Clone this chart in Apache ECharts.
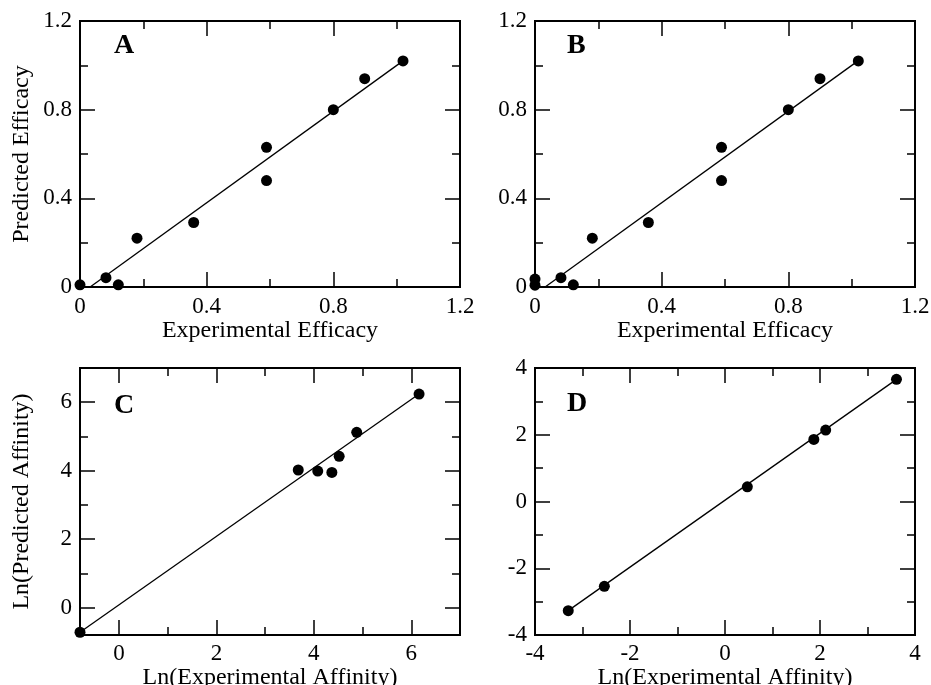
<!DOCTYPE html>
<html>
<head>
<meta charset="UTF-8">
<title>Efficacy and affinity</title>
<script src="https://cdn.jsdelivr.net/npm/echarts@6/dist/echarts.min.js"></script>
</head>
<body style="margin:0;background:#fff">
<div id="main" style="width:931px;height:685px"></div>
<script>
// panel A: experimental vs predicted efficacy
var expEffA = [0, 0.082, 0.121, 0.18, 0.359, 0.589, 0.589, 0.8, 0.899, 1.02];
var predEffA = [0.01, 0.042, 0.01, 0.22, 0.291, 0.63, 0.48, 0.8, 0.94, 1.02];
// panel B: same set plus one more compound at 0
var expEffB = [0, 0, 0.082, 0.121, 0.181, 0.358, 0.589, 0.589, 0.8, 0.9, 1.021];
var predEffB = [0.036, 0.008, 0.042, 0.01, 0.22, 0.291, 0.63, 0.48, 0.8, 0.94, 1.02];
// fitted line ends (A and B)
var fitEffX = [0.032, 1.02];
var fitEffY = [0, 1.02];
// panel C: ln affinities
var expAffC = [-0.8, 3.68, 4.08, 4.37, 4.52, 4.88, 6.16];
var predAffC = [-0.72, 4.02, 3.99, 3.95, 4.42, 5.12, 6.24];
var fitCX = [-0.8, 6.18];
var fitCY = [-0.72, 6.26];
// panel D
var expAffD = [-3.3, -2.54, 0.47, 1.87, 2.12, 3.61];
var predAffD = [-3.27, -2.54, 0.44, 1.86, 2.14, 3.66];
var fitDX = [-3.3, 3.61];
var fitDY = [-3.27, 3.66];

// tick values
var effMajor = [0, 0.4, 0.8, 1.2];
var effMinor = [0.2, 0.6, 1.0];
var affCMajor = [0, 2, 4, 6];
var affCMinor = [1, 3, 5];
var affDMajor = [-4, -2, 0, 2, 4];
var affDMinor = [-3, -1, 1, 3];

var font = "'Liberation Serif', 'DejaVu Serif', serif";
var myChart = echarts.init(document.getElementById('main'));

var xAxes = [];
var yAxes = [];

// four axes per direction: labelled major, minor, mirrored major, mirrored minor
function addAxes(list, grid, dim, min, max, major, minor, name, nameGap, labelMargin) {
    var first = dim === 'x' ? 'bottom' : 'left';
    var second = dim === 'x' ? 'top' : 'right';
    var sets = [
        [first, major, 15, true],
        [first, minor, 8, false],
        [second, major, 15, false],
        [second, minor, 8, false]
    ];
    var start = list.length;
    sets.forEach(function (s) {
        var ax = {
            gridIndex: grid,
            type: 'value',
            min: min,
            max: max,
            position: s[0],
            axisLine: { show: false, onZero: false },
            splitLine: { show: false },
            axisTick: { show: true, inside: true, length: s[2], customValues: s[1],
                lineStyle: { color: '#000', width: 1.5 } },
            axisLabel: { show: s[3], customValues: s[1], margin: labelMargin,
                color: '#000', fontFamily: font, fontSize: 23 }
        };
        if (s[3] && name) {
            ax.name = name;
            ax.nameLocation = 'middle';
            ax.nameGap = nameGap;
            ax.nameTextStyle = { color: '#000', fontFamily: font, fontSize: 24 };
        }
        list.push(ax);
    });
    return start;
}

var grids = [
    { left: 80, top: 21, width: 380, height: 266 },
    { left: 535, top: 21, width: 380, height: 266 },
    { left: 80, top: 368, width: 380, height: 267 },
    { left: 535, top: 368, width: 380, height: 267 }
];
grids.forEach(function (g) {
    g.show = true;
    g.borderColor = '#000';
    g.borderWidth = 2;
    g.outerBoundsMode = 'none';
    g.containLabel = false;
});

var xa = addAxes(xAxes, 0, 'x', 0, 1.2, effMajor, effMinor, 'Experimental Efficacy', 28, 8);
var ya = addAxes(yAxes, 0, 'y', 0, 1.2, effMajor, effMinor, 'Predicted Efficacy', 46, 8);
var xb = addAxes(xAxes, 1, 'x', 0, 1.2, effMajor, effMinor, 'Experimental Efficacy', 28, 8);
var yb = addAxes(yAxes, 1, 'y', 0, 1.2, effMajor, effMinor, null, 0, 8);
var xc = addAxes(xAxes, 2, 'x', -0.8, 7, affCMajor, affCMinor, 'Ln(Experimental Affinity)', 29, 7);
var yc = addAxes(yAxes, 2, 'y', -0.8, 7, affCMajor, affCMinor, 'Ln(Predicted Affinity)', 46, 8);
var xd = addAxes(xAxes, 3, 'x', -4, 4, affDMajor, affDMinor, 'Ln(Experimental Affinity)', 29, 7);
var yd = addAxes(yAxes, 3, 'y', -4, 4, affDMajor, affDMinor, null, 0, 8);

function pairs(xs, ys) {
    return xs.map(function (v, i) { return [v, ys[i]]; });
}

function panel(xi, yi, xs, ys, lx, ly) {
    return [{
        type: 'line',
        xAxisIndex: xi,
        yAxisIndex: yi,
        data: pairs(lx, ly),
        showSymbol: false,
        lineStyle: { color: '#000', width: 1.3 },
        z: 2
    }, {
        type: 'scatter',
        xAxisIndex: xi,
        yAxisIndex: yi,
        data: pairs(xs, ys),
        symbolSize: 11,
        itemStyle: { color: '#000', opacity: 1 },
        z: 3
    }];
}

function letter(t, l, tp) {
    return { text: t, left: l, top: tp, padding: 0,
        textStyle: { fontFamily: font, fontSize: 28, fontWeight: 'bold', color: '#000' } };
}

var option = {
    animation: false,
    backgroundColor: '#fff',
    title: [letter('A', 114, 32), letter('B', 567, 32), letter('C', 114, 392), letter('D', 567, 390)],
    grid: grids,
    xAxis: xAxes,
    yAxis: yAxes,
    series: [].concat(
        panel(xa, ya, expEffA, predEffA, fitEffX, fitEffY),
        panel(xb, yb, expEffB, predEffB, fitEffX, fitEffY),
        panel(xc, yc, expAffC, predAffC, fitCX, fitCY),
        panel(xd, yd, expAffD, predAffD, fitDX, fitDY)
    )
};

myChart.setOption(option);
</script>
</body>
</html>
